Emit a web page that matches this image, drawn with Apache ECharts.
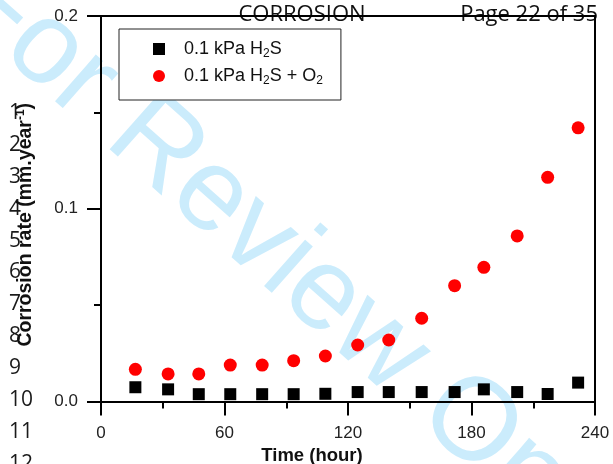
<!DOCTYPE html>
<html><head><meta charset="utf-8">
<script src="https://cdn.jsdelivr.net/npm/echarts@6/dist/echarts.min.js"></script>
<style>html,body{margin:0;padding:0;background:#fff}#c{width:613px;height:464px}</style>
</head><body><div id="c"></div>
<script>
// ---- data ----
const hours      = [16.7, 32.6, 47.5, 62.8, 78.3, 93.6, 109.0, 124.7, 139.8, 155.8, 171.8, 186.0, 202.2, 217.0, 231.8];
const rateH2S    = [0.0074, 0.0063, 0.0038, 0.0038, 0.0038, 0.0038, 0.0040, 0.0049, 0.0049, 0.0049, 0.0049, 0.0063, 0.0049, 0.0039, 0.0098];
const rateH2SO2  = [0.0167, 0.0143, 0.0143, 0.0189, 0.0189, 0.0212, 0.0236, 0.0293, 0.0319, 0.0432, 0.0601, 0.0696, 0.0859, 0.1163, 0.1420];
const seriesNames = ['0.1 kPa H2S', '0.1 kPa H2S + O2'];
const xMin = 0, xMax = 240, xStep = 60;
const yMin = 0, yMax = 0.2, yStep = 0.1;
const lineNumbers = ['1','2','3','4','5','6','7','8','9','10','11','12'];
const headerLeft = 'CORROSION';
const headerRight = 'Page 22 of 35';
const watermark = 'For Review Only';

const toPairs = (xs, ys) => xs.map((x, i) => [x, ys[i]]);
const FONT = 'Liberation Sans';

const chart = echarts.init(document.getElementById('c'), null, {renderer: 'canvas'});

const graphics = [];
graphics.push({
  type: 'text', z: -10, x: -32, y: -19, rotation: -41.5 * Math.PI / 180,
  style: { text: watermark, fontSize: 117, fontFamily: FONT, fill: '#cbecfc', textAlign: 'left', textVerticalAlign: 'middle' },
  silent: true
});
lineNumbers.forEach((t, i) => {
  graphics.push({
    type: 'text', x: 9, y: 113 + i * 31.9,
    style: { text: t, fontSize: 21, fontFamily: 'Open Sans', fill: '#1a1a1a', textAlign: 'left', textVerticalAlign: 'middle' },
    silent: true
  });
});
graphics.push({ type: 'text', x: 302, y: 15, style: { text: headerLeft, fontSize: 22, fontFamily: 'Open Sans', fill: '#111', textAlign: 'center', textVerticalAlign: 'middle' }, silent: true });
graphics.push({ type: 'text', x: 598, y: 15, style: { text: headerRight, fontSize: 22, fontFamily: 'Open Sans', fill: '#111', textAlign: 'right', textVerticalAlign: 'middle' }, silent: true });

const axisLine = { show: true, onZero: false, lineStyle: { color: '#000', width: 2 } };
const tick = { show: true, inside: false, length: 14, lineStyle: { color: '#000', width: 2 } };
const minor = { show: true, splitNumber: 2, length: 7, lineStyle: { color: '#000', width: 2 } };
const lbl = { fontFamily: FONT, fontSize: 17, color: '#222', margin: 23 };

chart.setOption({
  animation: false,
  backgroundColor: '#fff',
  graphic: graphics,
  grid: { left: 101, right: 18, top: 16, bottom: 62.5, containLabel: false, outerBoundsMode: 'none' },
  legend: {
    orient: 'vertical', left: 119, top: 29,
    padding: [11, 18, 13, 34], itemGap: 7,
    itemWidth: 12, itemHeight: 12,
    borderColor: '#222', borderWidth: 1, backgroundColor: '#fff',
    data: [{ name: seriesNames[0], icon: 'rect' }, { name: seriesNames[1], icon: 'circle' }],
    formatter: function (name) {
      if (name === seriesNames[0]) return '{sp|}{t|0.1 kPa H}{sub|2}{t|S}';
      return '{sp|}{t|0.1 kPa H}{sub|2}{t|S + O}{sub|2}';
    },
    textStyle: {
      rich: {
        sp: { width: 14, lineHeight: 22 },
        t: { fontFamily: FONT, fontSize: 18, color: '#111', lineHeight: 22, verticalAlign: 'middle' },
        sub: { fontFamily: FONT, fontSize: 12, color: '#111', lineHeight: 12, verticalAlign: 'bottom' }
      }
    }
  },
  xAxis: [{
    type: 'value', position: 'bottom', min: xMin, max: xMax, interval: xStep,
    axisLine: axisLine, axisTick: tick, minorTick: minor,
    splitLine: { show: false }, minorSplitLine: { show: false },
    axisLabel: lbl,
    name: 'Time (hour)', nameLocation: 'middle', nameGap: 41,
    nameTextStyle: { fontFamily: FONT, fontSize: 18.5, fontWeight: 'bold', color: '#111', lineHeight: 20, padding: [0, 72, 0, 0] }
  }, {
    type: 'value', position: 'top', min: xMin, max: xMax, interval: xStep,
    axisLine: axisLine, axisTick: { show: false }, axisLabel: { show: false }, splitLine: { show: false }
  }],
  yAxis: [{
    type: 'value', position: 'left', min: yMin, max: yMax, interval: yStep,
    axisLine: axisLine, axisTick: tick, minorTick: minor,
    splitLine: { show: false }, minorSplitLine: { show: false },
    axisLabel: Object.assign({}, lbl, { formatter: v => v.toFixed(1) }),
    name: '{t|Corrosion rate (mm.year}{sup|-1}{t|)}', nameLocation: 'middle', nameGap: 64, nameRotate: 90,
    nameTextStyle: {
      padding: [0, 32, 0, 0],
      rich: {
        t: { fontFamily: FONT, fontSize: 19.5, fontWeight: 'bold', color: '#111', lineHeight: 22, verticalAlign: 'middle' },
        sup: { fontFamily: FONT, fontSize: 12, fontWeight: 'bold', color: '#111', lineHeight: 12, verticalAlign: 'top' }
      }
    }
  }, {
    type: 'value', position: 'right', min: yMin, max: yMax, interval: yStep,
    axisLine: axisLine, axisTick: { show: false }, axisLabel: { show: false }, splitLine: { show: false }
  }],
  series: [{
    name: seriesNames[0], type: 'scatter', symbol: 'rect', symbolSize: 12,
    itemStyle: { color: '#000', opacity: 1 }, data: toPairs(hours, rateH2S), z: 3
  }, {
    name: seriesNames[1], type: 'scatter', symbol: 'circle', symbolSize: 13,
    itemStyle: { color: '#ff0000', opacity: 1 }, data: toPairs(hours, rateH2SO2), z: 3
  }]
});
</script></body></html>
